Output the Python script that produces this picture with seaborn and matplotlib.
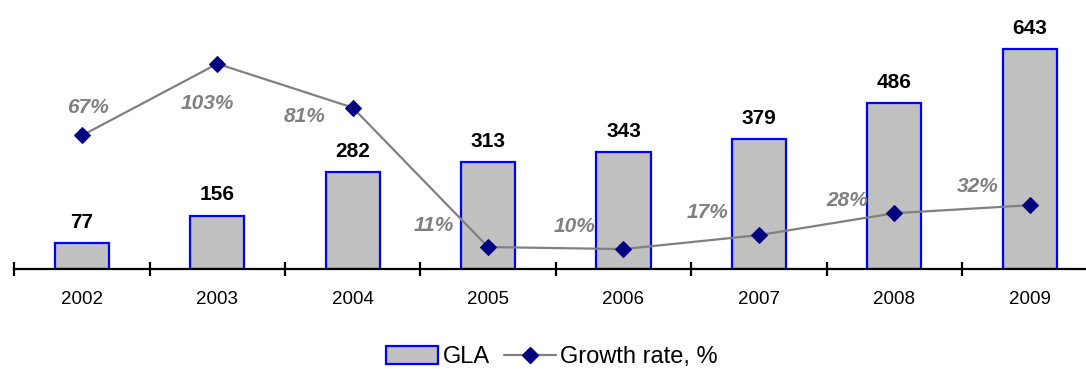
import numpy as np
import pandas as pd
import matplotlib
matplotlib.use("Agg")
import matplotlib.pyplot as plt
from matplotlib.patches import Patch
from matplotlib.lines import Line2D
import seaborn as sns

years = ["2002", "2003", "2004", "2005", "2006", "2007", "2008", "2009"]
gla = [77, 156, 282, 313, 343, 379, 486, 643]
growth = [67, 103, 81, 11, 10, 17, 28, 32]
growth_labels = ["67%", "103%", "81%", "11%", "10%", "17%", "28%", "32%"]

# label offsets (pixels) of the growth-rate annotations relative to their markers
growth_dx = [6, -10, -48, -54, -49, -51, -47, -52]
growth_dy = [28, -40, -9, 22, 23, 23, 13, 19]

sns.set_theme(style="white")
plt.rcParams["font.family"] = ["Liberation Sans", "DejaVu Sans"]
plt.rcParams["text.color"] = "black"
plt.rcParams["xtick.color"] = "black"

BAR_FILL = "#C0C0C0"
BAR_EDGE = "#0000FF"
LINE_COLOR = "#808080"
MARKER_COLOR = "#000080"

fig = plt.figure(figsize=(10.86, 3.69), dpi=100)
W, H = 1086, 369
ax = fig.add_axes([14.3 / W, 100 / H, 1083 / W, 269 / H])

df = pd.DataFrame({"year": years, "gla": gla})
sns.barplot(data=df, x="year", y="gla", ax=ax, color=BAR_FILL, width=0.4,
            edgecolor=BAR_EDGE, linewidth=1.6, saturation=1)
ax.set_xlim(-0.5, len(years) - 0.5)
ax.set_ylim(0, 786)

for i, v in enumerate(gla):
    ax.annotate(f"{v}", (i, v), xytext=(0, 8), textcoords="offset points",
                ha="center", va="bottom", fontsize=15, fontweight="bold",
                color="black")

ax2 = ax.twinx()
sns.lineplot(x=np.arange(len(years)), y=growth, ax=ax2, color=LINE_COLOR,
             linewidth=1.6, marker="D", markersize=8,
             markerfacecolor=MARKER_COLOR, markeredgecolor=MARKER_COLOR)
ax2.set_ylim(0, 135)
ax2.set_xlim(-0.5, len(years) - 0.5)

for i, (v, t) in enumerate(zip(growth, growth_labels)):
    ax2.annotate(t, (i, v), xytext=(growth_dx[i], growth_dy[i]),
                 textcoords="offset pixels", ha="center", va="center",
                 fontsize=15, fontweight="bold", fontstyle="italic",
                 color=LINE_COLOR)

for a in (ax, ax2):
    for s in ("top", "right", "left"):
        a.spines[s].set_visible(False)
    a.set_ylabel("")
    a.set_yticks([])
ax2.spines["bottom"].set_visible(False)

ax.spines["bottom"].set_color("black")
ax.spines["bottom"].set_linewidth(1.6)
ax.set_xlabel("")
ax.set_xticks(np.arange(-0.5, len(years), 1))
ax.set_xticklabels([])
ax.set_xticks(np.arange(len(years)), minor=True)
ax.set_xticklabels(years, minor=True, fontsize=13.5, color="black")
ax.tick_params(axis="x", which="major", direction="inout", length=10,
               width=1.6, color="black", bottom=True)
ax.tick_params(axis="x", which="minor", length=0, pad=16, bottom=True)

handles = [
    Patch(facecolor=BAR_FILL, edgecolor=BAR_EDGE, linewidth=1.6, label="GLA"),
    Line2D([0], [0], color=LINE_COLOR, linewidth=1.6, marker="D",
           markersize=8, markerfacecolor=MARKER_COLOR,
           markeredgecolor=MARKER_COLOR, label="Growth rate, %"),
]
leg = fig.legend(handles=handles, loc="center",
                 bbox_to_anchor=(552 / W, 1 - 357 / H), ncol=2, frameon=False,
                 fontsize=17, handlelength=2.2, handletextpad=0.2,
                 columnspacing=0.6, handleheight=0.8)
for txt in leg.get_texts():
    txt.set_color("black")

fig.savefig("out.png", dpi=100)
